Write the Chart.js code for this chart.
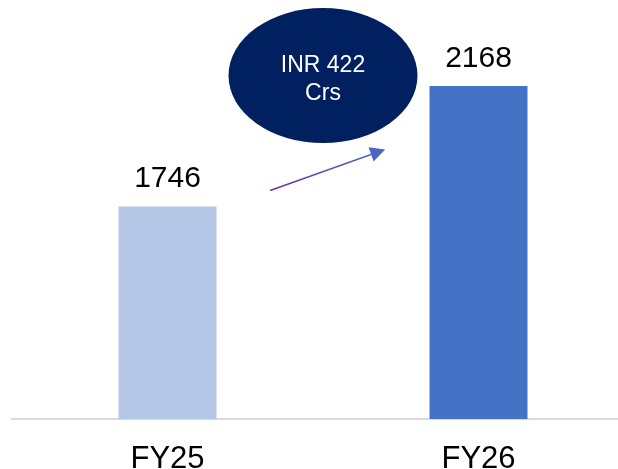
<!DOCTYPE html>
<html>
<head>
<meta charset="utf-8">
<script src="https://cdn.jsdelivr.net/npm/chart.js@4"></script>
<style>
  html, body { margin: 0; padding: 0; background: #ffffff; overflow: hidden; }
  #wrap { width: 640px; height: 469px; }
</style>
</head>
<body>
<div id="wrap"><canvas id="c" width="640" height="469"></canvas></div>
<script>
const categories = ['FY25', 'FY26'];
const revenue = [1746, 2168];
const barColors = ['#B4C7E7', '#4472C4'];
const calloutLines = ['INR 422', 'Crs'];

const FONT = '"Liberation Sans", Arial, sans-serif';

const overlay = {
  id: 'overlay',
  afterDatasetsDraw(chart) {
    const ctx = chart.ctx;
    const xs = chart.scales.x, ys = chart.scales.y;
    const area = chart.chartArea;
    const meta = chart.getDatasetMeta(0);
    ctx.save();
    ctx.fillStyle = '#000000';
    ctx.font = '30px ' + FONT;
    ctx.textAlign = 'center';
    ctx.textBaseline = 'alphabetic';
    meta.data.forEach((el, i) => {
      ctx.fillText(String(revenue[i]), el.x, el.y - 19);
    });
    ctx.font = '31px ' + FONT;
    categories.forEach((c, i) => {
      ctx.fillText(c, xs.getPixelForValue(i), area.bottom + 48.5);
    });

    const x0 = xs.getPixelForValue(0.33), y0 = ys.getPixelForValue(1802);
    const x1 = xs.getPixelForValue(0.70), y1 = ys.getPixelForValue(1946);
    const ang = Math.atan2(y1 - y0, x1 - x0);
    const headLen = 15, headW = 7.5;
    const bx = x1 - headLen * Math.cos(ang), by = y1 - headLen * Math.sin(ang);
    const grad = ctx.createLinearGradient(x0, y0, x1, y1);
    grad.addColorStop(0, '#7030A0');
    grad.addColorStop(1, '#4472C4');
    ctx.strokeStyle = grad;
    ctx.lineWidth = 1.5;
    ctx.beginPath();
    ctx.moveTo(x0, y0);
    ctx.lineTo(bx, by);
    ctx.stroke();
    ctx.fillStyle = '#4A66C0';
    ctx.beginPath();
    ctx.moveTo(x1, y1);
    ctx.lineTo(bx + headW * Math.sin(ang), by - headW * Math.cos(ang));
    ctx.lineTo(bx - headW * Math.sin(ang), by + headW * Math.cos(ang));
    ctx.closePath();
    ctx.fill();

    const cx = xs.getPixelForValue(0.5), cy = ys.getPixelForValue(2205);
    ctx.fillStyle = '#002060';
    ctx.beginPath();
    ctx.ellipse(cx, cy, 94.5, 67.5, 0, 0, Math.PI * 2);
    ctx.fill();
    ctx.fillStyle = '#FFFFFF';
    ctx.font = '23px ' + FONT;
    ctx.textAlign = 'center';
    ctx.fillText(calloutLines[0], cx, cy - 4);
    ctx.fillText(calloutLines[1], cx, cy + 24.5);
    ctx.restore();
  }
};

new Chart(document.getElementById('c'), {
  type: 'bar',
  data: {
    labels: categories,
    datasets: [{
      data: revenue,
      backgroundColor: barColors,
      borderWidth: 0,
      categoryPercentage: 1.0,
      barPercentage: 0.315
    }]
  },
  options: {
    responsive: false,
    animation: false,
    devicePixelRatio: 1,
    layout: { padding: { left: 12, right: 6, top: 20, bottom: 42 } },
    plugins: { legend: { display: false }, tooltip: { enabled: false } },
    scales: {
      x: {
        grid: { display: false },
        border: { display: true, color: '#D9D9D9', width: 2 },
        ticks: { display: false }
      },
      y: {
        display: false,
        min: 1000,
        max: 2400
      }
    }
  },
  plugins: [overlay]
});
</script>
</body>
</html>
